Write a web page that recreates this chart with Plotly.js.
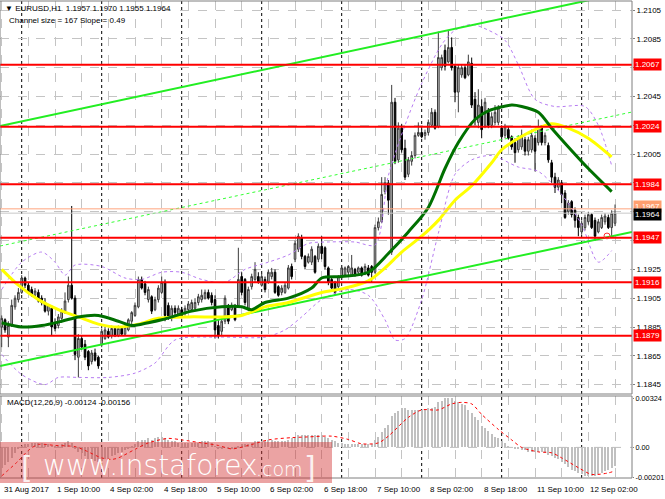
<!DOCTYPE html>
<html><head><meta charset="utf-8">
<script src="https://cdn.plot.ly/plotly-3.0.1.min.js"></script>
<style>html,body{margin:0;padding:0;background:#fff;}#chart{width:665px;height:499px;}</style>
</head><body><div id="chart"></div>
<script>
// EURUSD H1 candles, 31 Aug 2017 18:00 .. 12 Sep 2017 10:00 (bar index 0..184)
const openP = [
1.1885,1.1890,1.1878,1.1886,1.1899,1.1904,1.1909,1.1919,1.1914,1.1911,
1.1907,1.1909,1.1905,1.1902,1.1896,1.1898,1.1887,1.1886,1.1891,1.1896,
1.1904,1.1914,1.1905,1.1864,1.1877,1.1873,1.1868,1.1861,1.1867,1.1864,
1.1873,1.1877,1.1882,1.1879,1.1884,1.1879,1.1884,1.1880,1.1883,1.1889,
1.1893,1.1899,1.1918,1.1915,1.1904,1.1906,1.1897,1.1904,1.1909,1.1916,
1.1900,1.1891,1.1898,1.1894,1.1897,1.1895,1.1897,1.1897,1.1898,1.1902,
1.1904,1.1905,1.1909,1.1907,1.1904,1.1886,1.1882,1.1889,1.1899,1.1897,
1.1899,1.1900,1.1920,1.1918,1.1897,1.1913,1.1918,1.1920,1.1914,1.1918,
1.1916,1.1920,1.1923,1.1913,1.1909,1.1909,1.1912,1.1927,1.1932,1.1939,
1.1947,1.1934,1.1930,1.1930,1.1934,1.1932,1.1941,1.1940,1.1926,1.1918,
1.1916,1.1913,1.1920,1.1921,1.1923,1.1921,1.1925,1.1923,1.1926,1.1923,
1.1926,1.1927,1.1923,1.1954,1.1958,1.1979,1.1985,1.1937,1.2041,1.2001,
1.2023,1.2009,1.1991,1.2000,1.2004,1.2018,1.2020,1.2018,1.2020,1.2025,
1.2034,1.2024,1.2065,1.2077,1.2069,1.2079,1.2066,1.2048,1.2060,1.2065,
1.2060,1.2068,1.2043,1.2027,1.2038,1.2025,1.2034,1.2025,1.2027,1.2027,
1.2023,1.2018,1.2022,1.2017,1.2013,1.2008,1.2010,1.2015,1.2007,1.2008,
1.2016,1.2013,1.2024,1.2013,1.2011,1.1999,1.1989,1.1982,1.1985,1.1978,
1.1965,1.1972,1.1966,1.1961,1.1951,1.1954,1.1958,1.1963,1.1959,1.1951,
1.1954,1.1958,1.1961,1.1954,1.1957];
const highP = [
1.1893,1.1891,1.1889,1.1904,1.1907,1.1912,1.1921,1.1920,1.1916,1.1913,
1.1912,1.1911,1.1907,1.1905,1.1901,1.1900,1.1891,1.1894,1.1898,1.1909,
1.1920,1.1969,1.1907,1.1880,1.1879,1.1876,1.1869,1.1869,1.1870,1.1865,
1.1884,1.1885,1.1884,1.1886,1.1885,1.1886,1.1885,1.1886,1.1891,1.1896,
1.1902,1.1920,1.1920,1.1917,1.1913,1.1907,1.1906,1.1914,1.1920,1.1918,
1.1902,1.1900,1.1900,1.1900,1.1899,1.1900,1.1903,1.1904,1.1905,1.1908,
1.1911,1.1911,1.1911,1.1909,1.1907,1.1890,1.1891,1.1907,1.1901,1.1902,
1.1901,1.1940,1.1923,1.1919,1.1913,1.1922,1.1930,1.1923,1.1922,1.1920,
1.1925,1.1926,1.1925,1.1914,1.1914,1.1916,1.1928,1.1929,1.1945,1.1950,
1.1949,1.1935,1.1936,1.1941,1.1935,1.1943,1.1948,1.1941,1.1927,1.1920,
1.1917,1.1921,1.1928,1.1927,1.1928,1.1935,1.1926,1.1927,1.1927,1.1929,
1.1928,1.1928,1.1956,1.1961,1.1989,1.1989,1.1987,1.2053,1.2044,1.2027,
1.2026,1.2015,1.2003,1.2007,1.2020,1.2027,1.2022,1.2022,1.2029,1.2037,
1.2036,1.2090,1.2074,1.2081,1.2091,1.2086,1.2067,1.2067,1.2067,1.2067,
1.2074,1.2072,1.2048,1.2050,1.2043,1.2044,1.2037,1.2034,1.2039,1.2039,
1.2025,1.2026,1.2024,1.2018,1.2016,1.2018,1.2022,1.2017,1.2017,1.2022,
1.2018,1.2029,1.2025,1.2020,1.2013,1.2001,1.1992,1.1989,1.1987,1.1980,
1.1973,1.1973,1.1968,1.1963,1.1959,1.1963,1.1965,1.1964,1.1961,1.1960,
1.1963,1.1964,1.1963,1.1966,1.1970];
const lowP = [
1.1871,1.1881,1.1871,1.1885,1.1897,1.1902,1.1908,1.1912,1.1908,1.1906,
1.1905,1.1902,1.1900,1.1895,1.1893,1.1879,1.1882,1.1884,1.1890,1.1894,
1.1902,1.1904,1.1862,1.1850,1.1869,1.1862,1.1855,1.1859,1.1861,1.1856,
1.1871,1.1876,1.1877,1.1877,1.1878,1.1878,1.1879,1.1879,1.1882,1.1887,
1.1892,1.1898,1.1911,1.1907,1.1902,1.1894,1.1896,1.1902,1.1908,1.1889,
1.1890,1.1889,1.1893,1.1893,1.1891,1.1893,1.1896,1.1896,1.1897,1.1900,
1.1902,1.1904,1.1904,1.1900,1.1877,1.1877,1.1879,1.1887,1.1887,1.1896,
1.1889,1.1899,1.1907,1.1900,1.1896,1.1911,1.1916,1.1915,1.1913,1.1909,
1.1915,1.1918,1.1908,1.1906,1.1907,1.1908,1.1911,1.1918,1.1930,1.1937,
1.1932,1.1925,1.1929,1.1928,1.1922,1.1930,1.1932,1.1925,1.1914,1.1911,
1.1907,1.1911,1.1918,1.1920,1.1921,1.1920,1.1920,1.1921,1.1920,1.1921,
1.1920,1.1916,1.1922,1.1952,1.1957,1.1977,1.1963,1.1935,1.1998,1.1999,
1.2006,1.1987,1.1989,1.1997,1.2002,1.2017,1.2016,1.2015,1.2018,1.2024,
1.2022,1.2023,1.2063,1.2063,1.2068,1.2063,1.2041,1.2034,1.2058,1.2057,
1.2059,1.2037,1.2025,1.2023,1.2016,1.2023,1.2023,1.2023,1.2025,1.2025,
1.2015,1.2016,1.2015,1.2008,1.1999,1.2006,1.2008,1.2004,1.2004,1.2006,
1.1993,1.2011,1.2011,1.2011,1.1999,1.1985,1.1978,1.1980,1.1971,1.1960,
1.1963,1.1961,1.1954,1.1948,1.1949,1.1952,1.1956,1.1953,1.1945,1.1950,
1.1953,1.1956,1.1953,1.1948,1.1955];
const closeP = [
1.1891,1.1883,1.1886,1.1900,1.1905,1.1909,1.1919,1.1914,1.1909,1.1907,
1.1910,1.1903,1.1902,1.1896,1.1900,1.1885,1.1884,1.1892,1.1896,1.1903,
1.1914,1.1905,1.1866,1.1877,1.1871,1.1864,1.1858,1.1867,1.1862,1.1858,
1.1882,1.1883,1.1878,1.1884,1.1879,1.1884,1.1880,1.1885,1.1890,1.1895,
1.1900,1.1918,1.1912,1.1909,1.1911,1.1896,1.1904,1.1912,1.1916,1.1893,
1.1892,1.1898,1.1895,1.1898,1.1892,1.1898,1.1901,1.1902,1.1902,1.1906,
1.1907,1.1909,1.1905,1.1902,1.1883,1.1879,1.1889,1.1905,1.1889,1.1900,
1.1890,1.1918,1.1909,1.1902,1.1911,1.1920,1.1925,1.1916,1.1920,1.1911,
1.1923,1.1923,1.1909,1.1907,1.1912,1.1914,1.1926,1.1920,1.1943,1.1948,
1.1934,1.1927,1.1934,1.1939,1.1923,1.1941,1.1936,1.1927,1.1916,1.1912,
1.1909,1.1920,1.1926,1.1926,1.1927,1.1926,1.1921,1.1926,1.1921,1.1927,
1.1921,1.1923,1.1954,1.1958,1.1977,1.1985,1.1973,1.2041,1.2000,1.2023,
1.2008,1.1989,1.2001,1.2004,1.2018,1.2020,1.2017,1.2020,1.2027,1.2034,
1.2023,1.2072,1.2072,1.2066,1.2079,1.2065,1.2048,1.2065,1.2065,1.2058,
1.2069,1.2039,1.2029,1.2039,1.2022,1.2041,1.2025,1.2031,1.2034,1.2037,
1.2017,1.2024,1.2016,1.2010,1.2006,1.2016,1.2018,1.2007,1.2015,1.2018,
1.2007,1.2024,1.2013,1.2018,1.2001,1.1989,1.1982,1.1987,1.1977,1.1961,
1.1971,1.1963,1.1959,1.1954,1.1957,1.1961,1.1963,1.1954,1.1948,1.1958,
1.1961,1.1962,1.1954,1.1964,1.1964];

// MACD(12,26,9) main (histogram) per bar
const macdMain = [
-0.0014,-0.0012,-0.0010,-0.0007,-0.0004,-0.0001,0.0001,0.0002,0.0002,0.0003,
0.0003,0.0003,0.0003,0.0002,0.0002,0.0001,0.0001,0.0001,0.0002,0.0003,
0.0004,0.0003,-0.0001,-0.0003,-0.0004,-0.0006,-0.0008,-0.0008,-0.0009,-0.0010,
-0.0009,-0.0008,-0.0007,-0.0006,-0.0005,-0.0004,-0.0003,-0.0002,-0.0001,0.0001,
0.0002,0.0004,0.0005,0.0005,0.0006,0.0005,0.0006,0.0007,0.0007,0.0006,
0.0005,0.0004,0.0004,0.0003,0.0003,0.0003,0.0003,0.0003,0.0003,0.0003,
0.0004,0.0004,0.0004,0.0003,0.0001,-0.0001,-0.0001,0.0000,-0.0001,-0.0001,
-0.0001,0.0001,0.0002,0.0002,0.0002,0.0003,0.0004,0.0004,0.0004,0.0004,
0.0005,0.0005,0.0004,0.0004,0.0004,0.0004,0.0005,0.0006,0.0007,0.0008,
0.0008,0.0008,0.0008,0.0008,0.0008,0.0008,0.0008,0.0007,0.0006,0.0005,
0.0004,0.0003,0.0003,0.0002,0.0002,0.0002,0.0002,0.0002,0.0002,0.0002,
0.0002,0.0002,0.0005,0.0007,0.0010,0.0013,0.0015,0.0021,0.0023,0.0024,
0.0026,0.0026,0.0025,0.0025,0.0025,0.0025,0.0025,0.0025,0.0026,0.0026,
0.0027,0.0030,0.0031,0.0033,0.0033,0.0033,0.0031,0.0030,0.0029,0.0028,
0.0025,0.0023,0.0020,0.0018,0.0014,0.0013,0.0011,0.0009,0.0007,0.0006,
0.0004,0.0003,0.0001,0.0000,-0.0001,-0.0001,-0.0002,-0.0002,-0.0003,-0.0003,
-0.0003,-0.0003,-0.0003,-0.0004,-0.0005,-0.0006,-0.0007,-0.0008,-0.0010,-0.0011,
-0.0013,-0.0015,-0.0016,-0.0017,-0.0018,-0.0019,-0.0019,-0.0019,-0.0019,-0.0018,
-0.0017,-0.0016,-0.0015,-0.0014,-0.00124];
const signalIdx = [0,5,8,11,16,22,25,30,33,35,40,44,50,54,60,65,69,74,80,87,92,99,104,108,113,116,122,126,131,135,138,141,144,149,153,156,161,165,168,173,177,182,184];
const signalVal = [-0.0019,-0.0009,-0.0002,0.0002,0.00013,0.00005,-0.0002,-0.0007,-0.0008,-0.0007,-0.00013,0.0003,0.0006,0.0005,0.0003,0.00013,-0.0001,0.00013,0.0005,0.00065,0.0007,0.00075,0.00053,0.00024,0.0003,0.00075,0.0020,0.0025,0.0025,0.0029,0.0030,0.0029,0.0022,0.0012,0.0005,0.0000,-0.0003,-0.00036,-0.0007,-0.00135,-0.0018,-0.0017,-0.00156];

// Moving averages (sampled)
const maFastIdx = [0,6,12,18,23,29,35,39,44,48,51,57,66,72,75,79,86,93,96,102,110,116,122,128,133,137,142,146,153,156,161,165,170,176,183];
const maFastVal = [1.1888,1.1885,1.1886,1.1889,1.1892,1.1893,1.1889,1.1886,1.1888,1.1890,1.1892,1.1896,1.1899,1.1899,1.1897,1.1902,1.1905,1.1912,1.1919,1.1920,1.1923,1.1936,1.1951,1.1968,1.1995,1.2013,1.2029,1.2035,1.2039,1.2038,1.2034,1.2023,1.2010,1.1995,1.1979];
const maSlowIdx = [0,5,11,17,23,29,35,41,47,56,66,72,79,86,96,103,110,115,120,126,131,136,141,147,150,155,161,165,170,176,183];
const maSlowVal = [1.1925,1.1914,1.1904,1.1897,1.1892,1.1887,1.1885,1.1887,1.1891,1.1892,1.1892,1.1893,1.1899,1.1902,1.1909,1.1912,1.1917,1.1926,1.1937,1.1948,1.1959,1.1973,1.1983,1.1999,1.2008,1.2016,1.2023,1.2026,1.2023,1.2016,1.2003];

// Bollinger bands (sampled)
const bbUpIdx = [0,6,12,16,19,22,30,37,42,48,54,60,67,73,80,86,92,98,106,112,116,121,126,132,136,141,146,151,155,160,166,175,179,183];
const bbUpVal = [1.1911,1.1930,1.1937,1.1930,1.1921,1.1928,1.1927,1.1919,1.1918,1.1923,1.1923,1.1918,1.1916,1.1925,1.1930,1.1935,1.1943,1.1944,1.1944,1.1942,1.1990,1.2025,1.2054,1.2081,1.2091,1.2095,1.2091,1.2084,1.2067,1.2043,1.2038,1.2038,1.2025,1.1997];
const bbLoIdx = [0,6,13,17,23,32,40,46,52,65,79,85,90,96,104,110,115,118,121,126,131,136,141,147,155,161,168,174,179,183];
const bbLoVal = [1.1866,1.1852,1.1845,1.1850,1.1850,1.1850,1.1853,1.1860,1.1876,1.1878,1.1878,1.1883,1.1892,1.1904,1.1911,1.1907,1.1890,1.1876,1.1877,1.1904,1.1950,1.1991,1.2001,1.2004,1.1996,1.1993,1.1977,1.1956,1.1930,1.1938];

// Regression channel (two anchor points each)
const channelIdx = [-0.51, 189.1];
const channelUpper = [1.20245, 1.21182];
const channelMid = [1.19412, 1.20342];
const channelLower = [1.18579, 1.19509];

// Horizontal levels
const levels = [1.2067, 1.2024, 1.1984, 1.1947, 1.1916, 1.1879];
const alertLevel = 1.1967;
const bidLevel = 1.1964;

// Axis ticks
const priceTicks = [1.1845,1.1865,1.1885,1.1905,1.1925,1.1945,1.1965,1.1985,1.2005,1.2025,1.2045,1.2065,1.2085,1.2105];
const hiddenTicks = [1.1945,1.1965,1.1985,1.2025,1.2065]; // covered by level labels in the original
const gridIdx = [0,8,16,24,32,40,48,56,64,72,80,88,96,104,112,120,128,136,144,152,160,168,176,184];
const tickIdx = [0,16,32,48,64,80,96,112,128,144,160,176];
const tickLabels = ['31 Aug 2017','1 Sep 10:00','4 Sep 02:00','4 Sep 18:00','5 Sep 10:00','6 Sep 02:00','6 Sep 18:00','7 Sep 10:00','8 Sep 02:00','8 Sep 18:00','11 Sep 10:00','12 Sep 02:00'];
const daySepIdx = [6,30,54,78,102,126,150,174];
const macdTicks = [0.00324, 0, -0.00201];
const macdTickText = ['0.00324','0.00','-0.00201'];

const idx = closeP.map((_, i) => i);
const FONT = 'Liberation Sans, Arial, sans-serif';
const FS = 8;
const PH = 477, PT = 1;
const py = p => (PT + PH - p) / PH;
const px = p => p / 632;
const BB = '#b77cf2';

const traces = [];
traces.push({x: bbUpIdx, y: bbUpVal, type:'scatter', mode:'lines', line:{color:BB, width:1, dash:'3px,3px', shape:'spline', smoothing:0.8}, hoverinfo:'skip'});
traces.push({x: bbLoIdx, y: bbLoVal, type:'scatter', mode:'lines', line:{color:BB, width:1, dash:'3px,3px', shape:'spline', smoothing:0.8}, hoverinfo:'skip'});
traces.push({x: channelIdx, y: channelMid, type:'scatter', mode:'lines', line:{color:'#33ff33', width:1, dash:'dot'}, hoverinfo:'skip'});
traces.push({x: channelIdx, y: channelUpper, type:'scatter', mode:'lines', line:{color:'#22ee22', width:2}, hoverinfo:'skip'});
traces.push({x: channelIdx, y: channelLower, type:'scatter', mode:'lines', line:{color:'#22ee22', width:2}, hoverinfo:'skip'});
traces.push({x: idx, open: openP, high: highP, low: lowP, close: closeP, type:'candlestick', xaxis:'x', yaxis:'y',
  increasing:{line:{color:'#3c3c3c', width:1}, fillcolor:'#c4c4c4'},
  decreasing:{line:{color:'#000000', width:1}, fillcolor:'#000000'},
  whiskerwidth:0, hoverinfo:'skip'});
traces.push({x: maSlowIdx, y: maSlowVal, type:'scatter', mode:'lines', line:{color:'#ffff00', width:3, shape:'spline', smoothing:0.8}, hoverinfo:'skip'});
traces.push({x: maFastIdx, y: maFastVal, type:'scatter', mode:'lines', line:{color:'#007000', width:3, shape:'spline', smoothing:0.8}, hoverinfo:'skip'});
traces.push({x: idx, y: macdMain, type:'bar', xaxis:'x', yaxis:'y2', marker:{color:'#c0c0c0', line:{width:0}}, width:0.6, hoverinfo:'skip'});
traces.push({x: signalIdx, y: signalVal, type:'scatter', mode:'lines', xaxis:'x', yaxis:'y2', line:{color:'#ff0000', width:1, dash:'dot', shape:'spline', smoothing:0.8}, hoverinfo:'skip'});

const shapes = [];
daySepIdx.forEach(d => shapes.push({type:'line', xref:'x', yref:'paper', x0:d, x1:d, y0:0, y1:1, line:{color:'#000', width:1, dash:'dot'}, layer:'between'}));
shapes.push({type:'line', xref:'paper', yref:'y2', x0:0, x1:1, y0:0, y1:0, line:{color:'#bdbdbd', width:1, dash:'dash'}, layer:'between'});
shapes.push({type:'line', xref:'paper', yref:'y', x0:0, x1:1, y0:bidLevel, y1:bidLevel, line:{color:'#c8c8c8', width:1}, layer:'above'});
shapes.push({type:'line', xref:'paper', yref:'y', x0:0, x1:1, y0:alertLevel, y1:alertLevel, line:{color:'#ffa47e', width:1}, layer:'above'});
levels.forEach(l => shapes.push({type:'line', xref:'paper', yref:'y', x0:0, x1:1, y0:l, y1:l, line:{color:'#ff0000', width:2}, layer:'above'}));
shapes.push({type:'circle', xref:'x', yref:'y', x0:180.7, x1:182.5, y0:1.19462, y1:1.19502, line:{color:'#ff3030', width:1}, layer:'above'});
shapes.push({type:'rect', xref:'paper', yref:'paper', x0:0, x1:1, y0:py(394), y1:1, line:{color:'#7f7f7f', width:1}, layer:'above'});
shapes.push({type:'rect', xref:'paper', yref:'paper', x0:0, x1:1, y0:0, y1:py(396), line:{color:'#7f7f7f', width:1}, layer:'above'});
shapes.push({type:'rect', xref:'paper', yref:'paper', x0:0, x1:px(332), y0:py(483), y1:py(442), fillcolor:'rgba(210,50,50,0.45)', line:{width:0}, layer:'above'});

const ann = [];
ann.push({xref:'paper', yref:'paper', x:px(3), y:py(8), xanchor:'left', yanchor:'middle', showarrow:false, text:'\u25BC EURUSD,H1  1.1957 1.1970 1.1955 1.1964', font:{family:FONT, size:FS, color:'#000'}});
ann.push({xref:'paper', yref:'paper', x:px(7), y:py(20), xanchor:'left', yanchor:'middle', showarrow:false, text:'Channel size = 167 Slope = 0.49', font:{family:FONT, size:FS, color:'#000'}});
ann.push({xref:'paper', yref:'paper', x:px(5), y:py(402), xanchor:'left', yanchor:'middle', showarrow:false, text:'MACD(12,26,9) -0.00124 -0.00156', font:{family:FONT, size:FS, color:'#000'}});
tickIdx.forEach((t, k) => ann.push({xref:'x', yref:'paper', x:t, y:py(489), xanchor:'left', yanchor:'middle', showarrow:false, text:tickLabels[k], font:{family:FONT, size:FS, color:'#000'}}));
levels.forEach(l => ann.push({xref:'paper', yref:'y', x:1, y:l, xanchor:'left', yanchor:'middle', xshift:1, showarrow:false, text:l.toFixed(4), bgcolor:'#ff0000', borderpad:1, font:{family:FONT, size:FS, color:'#fff'}}));
ann.push({xref:'paper', yref:'y', x:1, y:alertLevel, xanchor:'left', yanchor:'middle', xshift:1, yshift:2, showarrow:false, text:alertLevel.toFixed(4), bgcolor:'#ff9f6f', borderpad:1, font:{family:FONT, size:FS, color:'#fff'}});
ann.push({xref:'paper', yref:'y', x:1, y:bidLevel, xanchor:'left', yanchor:'middle', xshift:1, yshift:-1, showarrow:false, text:bidLevel.toFixed(4), bgcolor:'#000000', borderpad:1, font:{family:FONT, size:FS, color:'#fff'}});
ann.push({xref:'paper', yref:'paper', x:px(19), y:py(467), xanchor:'left', yanchor:'middle', showarrow:false, text:'[', font:{family:'DejaVu Sans', size:30, color:'rgba(255,255,255,0.85)'}});
ann.push({xref:'paper', yref:'paper', x:px(41), y:py(465), xanchor:'left', yanchor:'middle', showarrow:false, text:'www.instaforex', font:{family:'DejaVu Sans', size:28, color:'#ffffff', weight:300}});
ann.push({xref:'paper', yref:'paper', x:px(254), y:py(469), xanchor:'left', yanchor:'middle', showarrow:false, text:'.com', font:{family:'DejaVu Sans', size:19, color:'#ffffff', weight:300}});
ann.push({xref:'paper', yref:'paper', x:px(302), y:py(467), xanchor:'left', yanchor:'middle', showarrow:false, text:']', font:{family:'DejaVu Sans', size:30, color:'rgba(255,255,255,0.85)'}});

const layout = {
  width:665, height:499,
  margin:{l:0, r:33, t:PT, b:21, pad:0},
  paper_bgcolor:'#ffffff', plot_bgcolor:'#ffffff',
  showlegend:false, bargap:0,
  font:{family:FONT, size:FS, color:'#000'},
  xaxis:{range:[-0.51, 189.1], anchor:'y2', tickmode:'array', tickvals:gridIdx, showticklabels:false,
         showgrid:true, gridcolor:'#c4c4c4', griddash:'dash', gridwidth:1, zeroline:false, showline:false,
         ticks:'', rangeslider:{visible:false}, fixedrange:true},
  yaxis:{domain:[py(394), 1], range:[1.18385, 1.211125], side:'right', anchor:'x', tickmode:'array',
         tickvals:priceTicks, ticktext:priceTicks.map(v => hiddenTicks.includes(v) ? '' : v.toFixed(4)), showgrid:true, gridcolor:'#c4c4c4',
         griddash:'dash', gridwidth:1, zeroline:false, showline:false, ticks:'outside', ticklen:2,
         tickcolor:'#7f7f7f', tickfont:{family:FONT, size:FS, color:'#000'}, fixedrange:true},
  yaxis2:{domain:[0, py(396)], range:[-0.00204, 0.003427], side:'right', anchor:'x', tickmode:'array',
          tickvals:macdTicks, ticktext:macdTickText, showgrid:false, zeroline:false, showline:false,
          ticks:'outside', ticklen:1, tickcolor:'#7f7f7f', tickfont:{family:FONT, size:7.3, color:'#000'}, fixedrange:true},
  shapes:shapes, annotations:ann
};
Plotly.newPlot('chart', traces, layout, {staticPlot:true, displayModeBar:false});
</script></body></html>
